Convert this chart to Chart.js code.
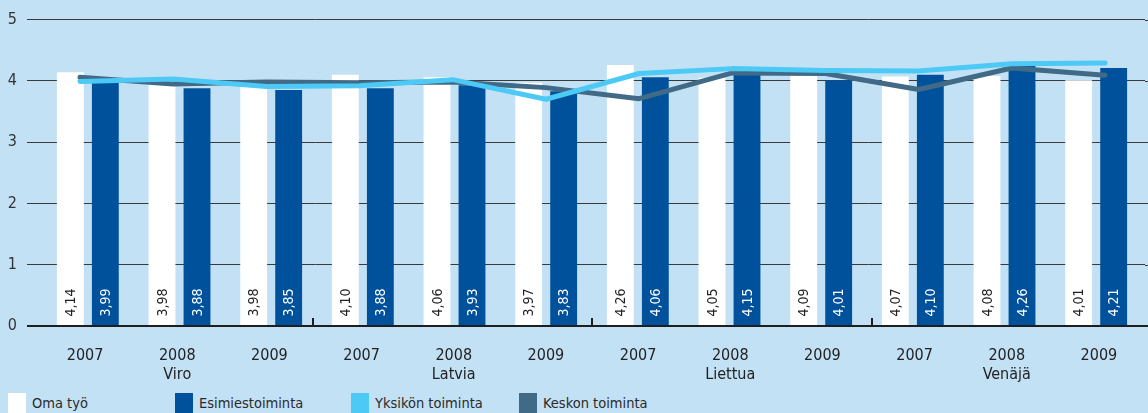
<!DOCTYPE html>
<html>
<head>
<meta charset="utf-8">
<script src="https://cdn.jsdelivr.net/npm/chart.js@4.4.1/dist/chart.umd.min.js"></script>
<style>
  body { margin: 0; background: #c3e1f5; }
  #wrap { position: relative; width: 1148px; height: 413px; overflow: hidden; background: #c3e1f5;
          font-family: "DejaVu Sans Condensed", "DejaVu Sans", sans-serif; }
  #myChart { position: absolute; left: 0; top: 0; }
  .leg { position: absolute; top: 393px; font-size: 14.5px; color: #2a2a2a; line-height: 20px; white-space: nowrap; }
  .leg span { display: inline-block; width: 18px; height: 20px; vertical-align: top; margin-right: 6px; }
</style>
</head>
<body>
<div id="wrap">
  <canvas id="myChart" width="1148" height="386"></canvas>
  <div id="legend"></div>
</div>
<script>
// values per country and year
const countries = ['Viro', 'Latvia', 'Liettua', 'Venäjä'];
const years = ['2007', '2008', '2009'];
const omaTyo = [4.14, 3.98, 3.98, 4.10, 4.06, 3.97, 4.26, 4.05, 4.09, 4.07, 4.08, 4.01];
const esimiestoiminta = [3.99, 3.88, 3.85, 3.88, 3.93, 3.83, 4.06, 4.15, 4.01, 4.10, 4.26, 4.21];
const yksikonToiminta = [3.99, 4.03, 3.91, 3.92, 4.02, 3.70, 4.12, 4.20, 4.17, 4.16, 4.28, 4.29];
const keskonToiminta = [4.06, 3.95, 3.98, 3.97, 3.98, 3.89, 3.71, 4.13, 4.12, 3.86, 4.21, 4.09];
const seriesNames = ['Oma työ', 'Esimiestoiminta', 'Yksikön toiminta', 'Keskon toiminta'];
const seriesColors = ['#ffffff', '#00519c', '#4cc9f5', '#406a85'];
const yMax = 5;

const font = '"DejaVu Sans Condensed", "DejaVu Sans", sans-serif';

var labels = [];
countries.forEach(c => {
    years.forEach((y, i) => {
        labels.push(i == 1 ? [y, c] : y);
    });
});

// category axis whose ends can be moved: used to set the two bars of a year side by side,
// and to spread the lines a little wider than the bars
class InsetCategoryScale extends Chart.CategoryScale {
    configure() {
        super.configure();
        const inset = this.options.inset || [0, 0];
        this._startPixel += inset[0];
        this._endPixel -= inset[1];
        this._length = this._endPixel - this._startPixel;
    }
}
InsetCategoryScale.id = 'insetCategory';
InsetCategoryScale.defaults = Chart.CategoryScale.defaults;
Chart.register(InsetCategoryScale);

// numbers inside bars + zero line + small ticks between countries
const barValues = {
    id: 'barValues',
    afterDatasetsDraw(chart) {
        const ctx = chart.ctx;
        ctx.save();
        ctx.font = '14px ' + font;
        ctx.textAlign = 'left';
        ctx.textBaseline = 'middle';
        [0, 1].forEach(i => {
            chart.getDatasetMeta(i).data.forEach((bar, j) => {
                const val = chart.data.datasets[i].data[j];
                ctx.save();
                ctx.translate(bar.x + 1, bar.base - 9);
                ctx.rotate(-Math.PI / 2);
                ctx.fillStyle = i == 0 ? '#222' : '#fff';
                ctx.fillText(val.toFixed(2).replace('.', ','), 0, 0);
                ctx.restore();
            });
        });
        const x = chart.scales.xl;
        const y = chart.scales.y;
        const y0 = y.getPixelForValue(0);
        const area = chart.chartArea;
        // gridlines run on to the right edge
        ctx.strokeStyle = '#3a3a3a';
        ctx.lineWidth = 1;
        ctx.beginPath();
        for (let v = 1; v <= yMax; v++) {
            const yp = Math.round(y.getPixelForValue(v)) + 0.5;
            ctx.moveTo(area.right, yp);
            ctx.lineTo(chart.width, yp);
        }
        ctx.stroke();
        ctx.strokeStyle = '#1e1e1e';
        ctx.lineWidth = 2;
        ctx.beginPath();
        ctx.moveTo(area.left - 12, y0);
        ctx.lineTo(chart.width, y0);
        for (let k = 3; k < labels.length; k += 3) {
            const xp = Math.round((x.getPixelForValue(k - 1) + x.getPixelForValue(k)) / 2);
            ctx.moveTo(xp, y0 - 8);
            ctx.lineTo(xp, y0);
        }
        ctx.stroke();
        ctx.restore();
    }
};

const lineStyle = {
    type: 'line',
    xAxisID: 'xl',
    borderWidth: 5,
    pointRadius: 0,
    borderCapStyle: 'round',
    borderJoinStyle: 'round'
};

const ctx = document.getElementById('myChart');
new Chart(ctx, {
    type: 'bar',
    data: {
        labels: labels,
        datasets: [{
            label: seriesNames[0],
            data: omaTyo,
            xAxisID: 'xw',
            backgroundColor: seriesColors[0],
            order: 3
        }, {
            label: seriesNames[1],
            data: esimiestoiminta,
            xAxisID: 'xb',
            backgroundColor: seriesColors[1],
            order: 3
        }, {
            ...lineStyle,
            label: seriesNames[2],
            data: yksikonToiminta,
            borderColor: seriesColors[2],
            order: 1
        }, {
            ...lineStyle,
            label: seriesNames[3],
            data: keskonToiminta,
            borderColor: seriesColors[3],
            order: 2
        }]
    },
    options: {
        responsive: false,
        animation: false,
        layout: { padding: { top: 17, left: 0, right: 3, bottom: 0 } },
        datasets: {
            bar: { grouped: false, categoryPercentage: 1, barPercentage: 0.293 }
        },
        plugins: {
            legend: { display: false },
            tooltip: { enabled: false }
        },
        scales: {
            x: {
                type: 'category',
                offset: true,
                grid: { display: false },
                border: { display: false },
                ticks: {
                    color: '#222',
                    font: { family: font, size: 16 },
                    padding: 12,
                    maxRotation: 0,
                    autoSkip: false
                },
                afterFit: axis => { axis.height = 60; }
            },
            xw: { type: 'insetCategory', inset: [-14.5, 20.5], display: false, offset: true },
            xb: { type: 'insetCategory', inset: [20.5, -14.5], display: false, offset: true },
            xl: { type: 'insetCategory', inset: [-5.6, -6.6], display: false, offset: true },
            y: {
                min: 0,
                max: yMax,
                border: { display: false },
                grid: {
                    color: '#3a3a3a',
                    lineWidth: 1,
                    tickLength: 12
                },
                ticks: {
                    stepSize: 1,
                    color: '#333',
                    padding: 10,
                    font: { family: font, size: 16 }
                },
                afterFit: axis => { axis.width = 39; }
            }
        }
    },
    plugins: [barValues]
});

// legend along the bottom edge
const legendX = [8, 175, 351, 519];
const legend = document.getElementById('legend');
seriesNames.forEach((name, i) => {
    const d = document.createElement('div');
    d.className = 'leg';
    d.style.left = legendX[i] + 'px';
    d.innerHTML = '<span style="background:' + seriesColors[i] + '"></span>' + name;
    legend.appendChild(d);
});
</script>
</body>
</html>
